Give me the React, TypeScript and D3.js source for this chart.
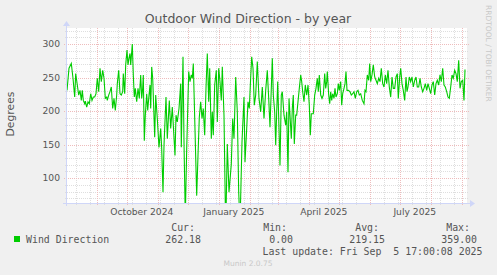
import * as d3 from "d3"

// day offsets from the graph start (Aug 1 2024 17:00) and wind direction in degrees
const days = [
  0, 2, 4.3, 6, 7.7, 8.7, 10.3, 11.7, 13, 14.3, 15.3, 16.3, 17.7, 18.3, 19.7, 21, 22.3, 23.7, 25, 26.3,
  27.7, 29, 30.3, 31.7, 33, 34.3, 35.7, 37, 38.3, 39.7, 40.3, 41.7, 43, 44.3, 45.7, 47, 48.3, 49.7, 50.3, 51.7,
  53, 54.3, 55.7, 56.3, 57.7, 58.7, 60, 61, 62, 63, 63.7, 65.3, 66.3, 67.3, 68.3, 69.7, 71, 72.3, 73.7, 74.7,
  75.7, 76.3, 77.3, 78.3, 79.7, 80.7, 82, 83, 83.7, 84.7, 85.7, 87.7, 88.7, 90.3, 92, 93.7, 94.7, 96, 97, 99,
  100.3, 102.3, 103.7, 105.3, 108, 109, 110.3, 112, 113.7, 114.3, 116, 117, 118.3, 119.7, 121.7, 123, 124.3, 125.3, 126.3, 129.7,
  131, 132.3, 133.7, 135, 136.3, 137.7, 139, 140.3, 141.7, 142.7, 144.3, 145.3, 146.3, 147.7, 149.3, 150.3, 151.7, 153, 154.3, 155.3,
  157, 158.7, 160.3, 162, 164.3, 165.7, 167, 168.7, 170.3, 171.7, 173, 175, 177, 178, 179.7, 181, 182.3, 183.7, 184.7, 186,
  187.3, 188.7, 190.3, 192, 193.7, 195.3, 197, 198.7, 200.3, 201.7, 203, 204.3, 205.3, 206.3, 207.7, 208.7, 209.7, 210.7, 212, 213,
  214.3, 215.3, 217, 218.7, 219.7, 221, 222, 223, 224.3, 225.3, 226.3, 227.3, 228.7, 229.7, 231, 232.3, 233.7, 234.7, 235.7, 237,
  238.3, 239.7, 241, 242.3, 243.3, 244.3, 246.3, 247.7, 249, 250.3, 251.3, 252.3, 253.7, 255, 256.3, 257.7, 258.7, 259.7, 260.3, 261.7,
  262.7, 263.7, 264.7, 265.7, 267, 268, 269, 270.3, 271.3, 272.3, 273.7, 274.7, 275.7, 277, 278, 279, 280, 281.3, 283, 284.3,
  285.7, 287, 288.3, 289.7, 291, 292.3, 293.7, 295.3, 297, 298, 299, 300.3, 301.7, 302.7, 303.7, 305, 306.3, 307.7, 309, 310.3,
  311.7, 313, 314.3, 315.7, 317, 318.3, 319.7, 321, 322.3, 323.7, 325, 326.3, 327.7, 329, 330.3, 331.3, 332.7, 333.7, 335, 336.3,
  337.7, 339, 340, 341, 342.3, 343.7, 345, 346.3, 347.7, 349, 350.3, 351.7, 353, 354.3, 355.7, 357, 358.3, 359.7, 361, 362.3,
  363.7, 365, 366.3, 367.7, 369, 370.3, 371.7, 373, 374.3, 375.7, 377, 378.3, 379.7, 381, 382.3, 383.7, 385, 386.3, 387.7, 389,
  390.3, 391.7, 393, 394.3, 395.7, 397, 398
]
const degrees = [
  231, 264, 271, 249, 221, 256, 239, 224, 231, 216, 231, 216, 211, 215, 206, 214, 211, 226, 216, 221,
  221, 226, 249, 229, 264, 244, 261, 249, 219, 221, 216, 224, 229, 236, 204, 219, 201, 224, 241, 261,
  226, 224, 229, 256, 226, 269, 291, 269, 279, 286, 269, 300, 254, 221, 234, 214, 234, 219, 254, 219,
  234, 254, 156, 194, 226, 201, 224, 239, 204, 266, 249, 161, 224, 189, 146, 174, 144, 79, 149, 221,
  159, 216, 174, 206, 134, 194, 184, 204, 241, 146, 281, 154, 40, 144, 259, 244, 254, 249, 271, 74,
  134, 191, 214, 189, 204, 164, 234, 286, 214, 264, 159, 199, 164, 239, 261, 184, 264, 244, 216, 266,
  194, 20, 151, 79, 121, 189, 159, 251, 199, 79, 30, 154, 221, 124, 174, 214, 204, 251, 281, 264,
  209, 224, 274, 219, 199, 236, 189, 231, 261, 219, 176, 234, 279, 224, 199, 149, 199, 244, 174, 119,
  224, 229, 194, 179, 199, 109, 219, 194, 159, 204, 224, 151, 194, 194, 214, 234, 254, 244, 229, 214,
  239, 224, 239, 209, 164, 196, 196, 224, 234, 249, 229, 254, 224, 219, 224, 256, 234, 244, 259, 224,
  211, 229, 216, 226, 219, 234, 221, 226, 241, 231, 244, 209, 226, 234, 241, 259, 231, 231, 229, 224,
  226, 229, 219, 229, 231, 224, 226, 216, 211, 231, 229, 254, 246, 271, 244, 254, 269, 251, 246, 241,
  249, 244, 264, 241, 236, 254, 241, 261, 236, 221, 251, 234, 234, 251, 256, 219, 251, 264, 241, 231,
  216, 251, 229, 236, 251, 244, 251, 236, 246, 251, 236, 236, 249, 236, 229, 234, 241, 231, 241, 234,
  226, 239, 244, 224, 241, 246, 239, 254, 244, 264, 239, 236, 229, 221, 219, 236, 254, 249, 261, 256,
  244, 276, 234, 244, 246, 216, 262
]

const legendHeads = ["Cur:", "Min:", "Avg:", "Max:"]
const legendValues = ["262.18", "0.00", "219.15", "359.00"]

const W = 497
const H = 275
const X0 = 67
const X1 = 467
const Y0 = 203
const Y1 = 28
const DAY = 864e5
const start = new Date(Date.UTC(2024, 7, 1, 17, 0, 0))
const end = new Date(start.getTime() + 400 * DAY)

const sans = "DejaVu Sans, sans-serif"
const mono = "DejaVu Sans Mono, monospace"

export default function App() {
  const x = d3.scaleUtc().domain([start, end]).range([X0, X1])
  const y = d3.scaleLinear().domain([63, 324]).range([Y0, Y1])

  const points = days.map((d, i) => ({ date: new Date(start.getTime() + d * DAY), v: degrees[i] }))
  const line = d3.line<{ date: Date; v: number }>()
    .x(d => x(d.date))
    .y(d => y(d.v))

  const majorY = y.ticks(5)
  const minorY = y.ticks(26).filter(t => !majorY.includes(t))
  const months = d3.utcMonth.range(start, end)
  const weeks = d3.utcSunday.range(start, end).filter((_, i) => i % 2 === 1)
  const labelMonths = months.filter(m => m.getUTCMonth() % 3 === 0)
  const fmt = d3.utcFormat("%B %Y")

  const minorColor = "#dedede"
  const majorColor = "#eebcbc"
  const axisColor = "#cfd6f8"
  const px = (v: number) => Math.round(v) + 0.5

  // legend columns: right edges of heads and values
  const headRight = [195, 287, 379, 470]
  const valueRight = [201, 293, 385, 477]

  return (
    <svg width={W} height={H} style={{ position: "fixed", left: 0, top: 0, background: "#f0f0f0" }}>
      <rect x={0} y={0} width={W} height={H} fill="#f0f0f0" />
      <rect x={X0} y={Y1} width={X1 - X0} height={Y0 - Y1} fill="#ffffff" />

      {/* minor grid */}
      <g stroke={minorColor} strokeDasharray="1,1" strokeWidth={1}>
        {minorY.map(t => (
          <line key={"my" + t} x1={X0 - 2} x2={X1 + 2} y1={px(y(t))} y2={px(y(t))} />
        ))}
        {weeks.map(w => (
          <line key={"mx" + w.getTime()} x1={px(x(w))} x2={px(x(w))} y1={Y1} y2={Y0 + 2} />
        ))}
      </g>
      {/* major grid */}
      <g stroke={majorColor} strokeDasharray="1,1" strokeWidth={1}>
        {majorY.map(t => (
          <line key={"My" + t} x1={X0 - 3} x2={X1 + 3} y1={px(y(t))} y2={px(y(t))} />
        ))}
        {months.map(m => (
          <line key={"Mx" + m.getTime()} x1={px(x(m))} x2={px(x(m))} y1={Y1} y2={Y0 + 3} />
        ))}
      </g>

      {/* axes */}
      <line x1={X0 - 4} x2={X1 + 3} y1={Y0 + 0.5} y2={Y0 + 0.5} stroke={axisColor} />
      <path d={`M${X1 + 3},${Y0 - 3} L${X1 + 8},${Y0 + 0.5} L${X1 + 3},${Y0 + 4} Z`} fill={axisColor} />
      <line x1={X0 - 0.5} x2={X0 - 0.5} y1={Y0 + 3} y2={Y1 - 2} stroke={axisColor} />
      <path d={`M${X0 - 4},${Y1 - 2} L${X0 - 0.5},${Y1 - 7} L${X0 + 3},${Y1 - 2} Z`} fill={axisColor} />

      <clipPath id="plot">
        <rect x={X0} y={Y1} width={X1 - X0} height={Y0 - Y1} />
      </clipPath>
      <path d={line(points) ?? ""} fill="none" stroke="#00cc00" strokeWidth={1.1} clipPath="url(#plot)" />

      {/* axis labels */}
      <g fontFamily={sans} fontSize={9.2} fill="#555">
        {majorY.map(t => (
          <text key={"yl" + t} x={X0 - 7} y={y(t) + 3.3} textAnchor="end">{t}</text>
        ))}
        {labelMonths.map(m => (
          <text key={"xl" + m.getTime()} x={x(new Date(m.getTime() + 14.5 * DAY))} y={215} textAnchor="middle">{fmt(m)}</text>
        ))}
      </g>

      <text x={0} y={0} transform={`translate(14,114) rotate(-90)`} textAnchor="middle" fontFamily={sans} fontSize={10.8} fill="#555">Degrees</text>
      <text x={248} y={23} textAnchor="middle" fontFamily={sans} fontSize={12.5} fill="#555">Outdoor Wind Direction - by year</text>
      <text x={0} y={0} transform={`translate(486,5) rotate(90)`} fontFamily={sans} fontSize={7.5} fill="#c8c8c8">RRDTOOL / TOBI OETIKER</text>

      {/* legend */}
      <rect x={14} y={236} width={6} height={6} fill="#00cc00" />
      <g fontFamily={mono} fontSize={9.9} fill="#555">
        <text x={26} y={242.5}>Wind Direction</text>
        {legendHeads.map((h, i) => (
          <text key={h} x={headRight[i]} y={230.5} textAnchor="end">{h}</text>
        ))}
        {legendValues.map((v, i) => (
          <text key={"v" + i} x={valueRight[i]} y={242.5} textAnchor="end">{v}</text>
        ))}
        <text x={482.5} y={254.5} textAnchor="end" xmlSpace="preserve">{"Last update: Fri Sep  5 17:00:08 2025"}</text>
      </g>
      <text x={248} y={266} textAnchor="middle" fontFamily={sans} fontSize={7.5} fill="#c8c8c8">Munin 2.0.75</text>
    </svg>
  )
}
